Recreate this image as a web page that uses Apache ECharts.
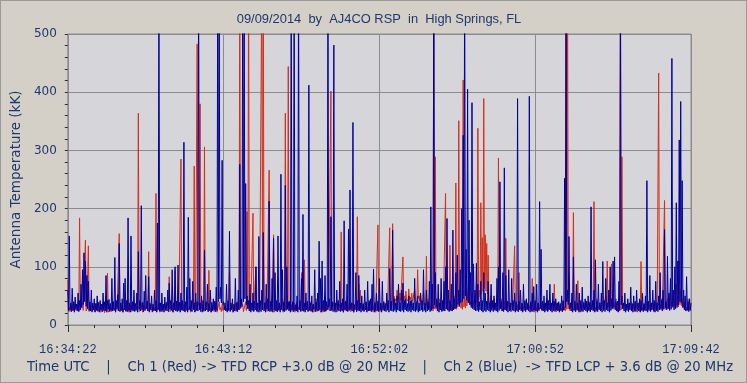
<!DOCTYPE html>
<html>
<head>
<meta charset="utf-8">
<script src="https://cdn.jsdelivr.net/npm/echarts@6/dist/echarts.min.js"></script>
<style>
html,body{margin:0;padding:0;background:#d4d0c8;}
#c{width:747px;height:383px;box-sizing:border-box;border:1px solid #9a9a9a;}
</style>
</head>
<body>
<div id="c"></div>
<script>
// Time axis: seconds from 16:34:22; each 5 s slot has a peak reading and a trough reading (2.5 s later)
const sampleStep = 5;
const timeTickLabels = ['16:34:22','16:43:12','16:52:02','17:00:52','17:09:42'];
const yTickLabels = ['0','100','200','300','400','500'];
const titleText = '09/09/2014  by  AJ4CO RSP  in  High Springs, FL';
const footerText = 'Time UTC    |    Ch 1 (Red) -> TFD RCP +3.0 dB @ 20 MHz    |    Ch 2 (Blue)  -> TFD LCP + 3.6 dB @ 20 MHz';

const ch1Red = [
77,30,22,35,21,38,24,30,184,25,40,22,146,28,136,24,35,21,32,23,
38,22,30,24,36,21,45,89,24,32,22,40,25,35,28,157,22,33,24,38,
22,45,24,35,21,40,25,32,364,24,38,22,34,26,40,126,23,35,22,30,
226,24,38,22,33,25,36,21,40,83,24,35,22,94,25,38,22,285,26,35,
22,40,24,33,25,45,273,30,483,40,380,28,36,306,24,40,94,30,22,35,
24,38,22,40,30,35,24,32,22,36,90,25,34,22,38,24,40,600,30,35,
24,40,195,600,35,28,192,24,100,26,38,24,600,600,30,40,24,266,35,28,
155,30,40,24,38,26,45,30,364,40,444,28,35,24,38,22,40,26,35,90,
28,112,24,36,22,40,25,35,24,45,26,38,22,40,28,50,24,35,28,402,
30,38,24,42,26,35,160,28,40,24,36,22,45,26,38,24,40,186,70,60,
28,36,22,40,25,38,24,35,28,40,24,172,30,36,24,40,26,38,28,167,
40,174,50,45,60,48,55,42,117,50,58,45,62,48,55,40,60,45,95,50,
55,42,58,40,118,45,38,30,40,600,289,35,28,45,30,38,28,226,40,30,
137,35,28,50,244,40,351,60,38,421,45,60,35,80,40,55,30,50,70,338,
60,210,150,389,155,140,120,40,50,30,45,28,40,287,35,45,28,40,149,30,
40,26,38,24,136,30,35,90,28,36,24,40,26,35,24,38,80,30,36,24,
38,26,40,24,35,28,45,24,36,22,40,70,30,38,24,35,28,40,30,600,
600,35,28,40,193,30,38,76,24,36,28,40,24,35,30,40,26,38,212,30,
45,26,38,28,40,30,50,110,45,60,105,40,30,45,28,35,600,289,30,38,
24,36,22,40,26,35,24,38,28,40,109,30,36,24,40,28,35,24,38,30,
40,28,433,35,45,30,214,38,45,50,60,40,55,45,70,50,110,60,45,38,
40,30,45,28,35
];
const ch1RedTrough = [
25,23,26,24,22,25,23,24,26,23,25,22,24,26,23,25,22,24,23,25,
23,25,22,24,26,23,25,22,24,23,26,24,22,25,23,24,26,22,25,23,
24,22,25,23,26,24,22,25,23,24,26,23,25,22,24,23,25,22,26,24,
23,25,22,24,23,26,24,22,25,23,24,26,23,25,22,24,23,25,22,26,
24,23,25,22,24,26,23,28,33,31,28,25,23,24,26,23,25,22,24,23,
25,22,24,26,23,25,22,24,23,25,26,24,22,25,23,24,26,28,25,23,
24,25,28,27,25,23,24,26,23,25,22,24,29,28,25,23,24,26,23,25,
22,24,23,25,26,24,22,25,27,28,26,24,23,25,22,24,26,23,25,24,
23,25,22,24,26,23,25,22,24,23,25,26,24,22,25,23,24,26,23,27,
25,22,24,23,25,26,24,22,25,23,24,26,23,25,22,24,23,25,33,31,
27,24,23,25,22,24,26,23,25,22,24,26,23,25,22,24,23,25,26,28,
33,35,38,41,43,39,41,38,43,40,45,41,43,39,41,38,43,39,45,41,
38,35,37,33,31,29,27,25,24,28,27,25,23,26,24,25,23,27,25,24,
26,24,25,28,27,31,33,29,27,31,29,33,31,35,33,31,28,33,38,43,
48,53,58,63,58,53,43,33,29,26,25,24,27,33,28,25,24,26,27,25,
24,23,25,22,26,24,23,27,25,24,22,25,23,24,26,23,25,22,24,23,
25,22,24,23,25,26,24,22,25,23,24,26,23,25,22,24,23,25,24,27,
28,25,23,24,26,23,25,22,24,23,25,26,24,22,25,23,24,26,25,23,
26,24,25,28,27,26,29,31,28,30,29,27,25,24,23,25,26,28,25,24,
23,25,22,24,26,23,25,22,24,23,25,26,24,22,25,23,24,26,23,25,
24,25,27,26,28,25,27,29,28,31,33,30,31,29,33,31,35,33,30,28,
25,24,26,23
];

const ch2Blue = [
60,153,38,63,40,48,36,55,42,70,95,124,110,85,75,40,60,38,45,37,
50,39,42,36,55,40,85,42,44,37,80,40,116,42,52,140,38,45,72,80,
42,184,38,153,40,60,37,55,126,42,205,39,58,85,41,83,37,50,36,60,
42,175,600,38,55,36,48,39,60,72,42,95,38,100,41,103,39,55,42,314,
40,65,185,80,42,75,38,55,40,600,38,50,42,129,40,70,37,60,39,45,
41,65,600,600,65,283,40,38,70,42,161,38,45,36,80,39,60,276,45,600,
600,243,50,42,70,38,55,41,100,38,152,42,60,159,38,70,45,213,41,80,
149,90,42,153,38,259,95,40,240,100,40,41,600,40,600,35,50,600,42,80,
190,38,55,41,412,38,50,36,95,39,55,144,80,110,42,85,40,600,45,186,
40,481,38,60,42,75,38,45,179,41,70,165,232,38,348,35,90,42,85,38,
50,37,60,39,75,42,45,70,96,38,55,41,80,38,75,40,37,55,42,97,
41,163,45,38,50,70,39,60,72,42,45,37,50,41,42,38,80,40,50,38,
55,42,95,38,60,40,75,203,70,600,90,45,70,38,80,42,75,100,183,60,
42,70,163,45,90,120,60,95,200,326,600,130,405,180,90,382,105,60,106,70,
40,75,42,90,55,41,75,38,70,42,50,38,80,100,246,40,90,270,85,41,
95,38,80,42,55,40,389,41,60,38,70,42,45,38,393,40,55,66,42,70,
38,212,130,41,50,38,60,42,70,38,55,41,45,38,40,37,50,42,252,600,
60,152,38,55,117,41,70,38,55,42,65,38,45,41,50,38,203,42,60,112,
41,70,38,55,109,42,80,38,60,100,45,110,117,40,41,75,600,50,38,55,
36,45,38,65,37,50,41,60,38,45,42,55,37,50,248,41,85,38,60,42,
75,38,50,90,42,60,164,40,118,55,80,458,60,100,210,110,318,384,248,60,
50,83,40,45,38
];
const ch2BlueTrough = [
24,26,23,25,22,27,24,23,26,30,35,40,32,28,25,24,23,26,22,25,
24,22,26,23,25,24,22,27,23,25,24,26,22,28,24,23,25,22,26,24,
23,25,22,26,24,23,25,22,27,24,26,23,25,28,24,22,26,23,25,24,
22,26,24,23,25,22,26,24,23,27,25,22,26,24,23,25,22,26,24,23,
25,22,26,24,23,27,22,25,24,26,23,22,25,24,26,23,25,22,24,26,
23,25,40,45,38,35,26,24,22,25,23,26,22,24,25,23,26,30,32,40,
45,35,28,24,22,25,23,26,24,22,25,23,26,24,22,27,24,23,25,22,
26,24,23,25,22,26,24,23,25,27,24,22,26,23,25,24,22,26,23,25,
24,22,26,23,25,24,22,27,23,25,24,26,22,25,23,24,26,30,24,25,
23,25,22,26,24,23,25,22,26,24,23,25,27,24,22,26,23,25,24,22,
25,23,26,22,24,25,23,26,22,25,24,23,26,22,25,24,23,26,22,25,
24,23,25,22,26,24,23,25,22,26,24,23,25,22,26,24,23,25,22,24,
26,23,25,22,24,26,23,25,28,35,30,24,22,26,23,25,24,28,26,23,
25,24,26,28,30,35,32,38,40,45,50,42,38,35,30,28,26,24,25,23,
26,24,22,25,23,26,24,22,25,23,26,24,22,25,28,24,23,26,24,22,
25,23,26,24,22,25,23,26,24,22,25,23,26,24,22,25,23,26,24,22,
25,28,26,24,22,25,23,26,24,22,25,23,26,24,22,25,23,26,30,40,
35,28,24,22,25,23,26,24,22,25,23,26,24,22,25,23,26,24,22,25,
23,26,24,22,25,23,26,24,22,25,28,30,26,24,22,25,35,28,24,22,
25,23,26,24,22,25,23,26,24,22,25,23,26,24,22,25,23,26,24,22,
25,23,26,28,24,27,30,26,28,25,27,32,26,28,30,35,40,38,30,26,
24,26,23,25
];

const txt = '#1e3870';
const totalSpan = (timeTickLabels.length - 1) * 530;
function buildSeries(peaks, troughs) {
  const out = [];
  for (let i = 0; i < peaks.length; i++) {
    out.push([i * sampleStep, peaks[i]]);
    if (i < troughs.length && i * sampleStep + sampleStep / 2 <= totalSpan) {
      out.push([i * sampleStep + sampleStep / 2, troughs[i]]);
    }
  }
  return out;
}

const chart = echarts.init(document.getElementById('c'), null, {renderer: 'canvas'});
chart.setOption({
  animation: false,
  backgroundColor: '#d4d0c8',
  graphic: [{
    type: 'text', x: 378, y: 18, silent: true,
    style: {text: titleText, align: 'center', verticalAlign: 'middle', fill: txt,
      font: '12.9px "Liberation Sans"'}
  }, {
    type: 'text', x: 379, y: 367, silent: true,
    style: {text: footerText, align: 'center', verticalAlign: 'middle', fill: txt,
      font: '13.2px "DejaVu Sans"'}
  }],
  grid: {
    left: 64, top: 33, right: 55, bottom: 57,
    show: true, backgroundColor: '#d6d6da', borderColor: '#8c8c8c', borderWidth: 1
  },
  xAxis: {
    type: 'value', min: 0, max: totalSpan, interval: 530,
    offset: 4,
    axisLine: {show: false},
    axisTick: {show: true, length: 7, lineStyle: {color: '#2a2a40'}},
    minorTick: {show: true, splitNumber: 6, length: 3, lineStyle: {color: '#2a2a40'}},
    splitLine: {show: true, lineStyle: {color: '#8c8c8c', width: 1}},
    axisLabel: {
      margin: 15, color: txt, fontFamily: 'Liberation Mono', fontSize: 12,
      formatter: v => timeTickLabels[Math.round(v / 530)]
    }
  },
  yAxis: {
    type: 'value', min: 0, max: 500, interval: 100,
    offset: 4,
    name: 'Antenna Temperature (kK)', nameLocation: 'middle', nameGap: 27, nameRotate: 90,
    nameTextStyle: {color: txt, fontFamily: 'DejaVu Sans', fontSize: 13.5},
    axisLine: {show: false},
    axisTick: {show: true, length: 3, lineStyle: {color: '#2a2a40'}},
    minorTick: {show: true, splitNumber: 5, length: 3, lineStyle: {color: '#2a2a40'}},
    splitLine: {show: true, lineStyle: {color: '#8c8c8c', width: 1}},
    axisLabel: {
      margin: 7, color: txt, fontFamily: 'DejaVu Sans', fontSize: 12,
      formatter: v => yTickLabels[Math.round(v / 100)]
    }
  },
  series: [{
    name: 'Ch 1 (Red)', type: 'line', data: buildSeries(ch1Red, ch1RedTrough),
    showSymbol: false, symbol: 'none', clip: true, z: 2, sampling: null,
    lineStyle: {color: '#d0301c', width: 1}
  }, {
    name: 'Ch 2 (Blue)', type: 'line', data: buildSeries(ch2Blue, ch2BlueTrough),
    showSymbol: false, symbol: 'none', clip: true, z: 3, sampling: null,
    lineStyle: {color: '#00009c', width: 1}
  }]
});
</script>
</body>
</html>
